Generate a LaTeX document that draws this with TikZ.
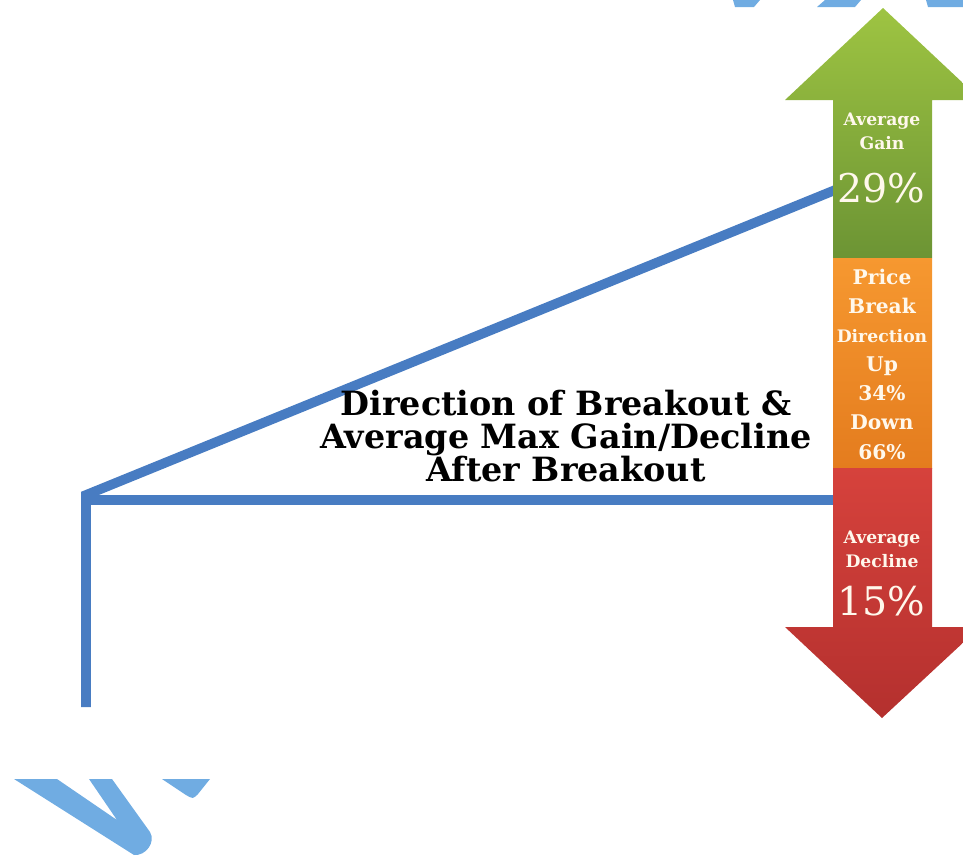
\documentclass[tikz,border=0pt]{standalone}
\usepackage{fontspec}
\setmainfont{DejaVu Serif}
\usepackage{tikz}
\usetikzlibrary{positioning}
\definecolor{trendblue}{RGB}{72, 124, 194}
\definecolor{hatchblue}{RGB}{112, 172, 226}
\definecolor{gaintop}{RGB}{158, 196, 66}
\definecolor{gainbot}{RGB}{108, 148, 52}
\definecolor{dirtop}{RGB}{246, 152, 48}
\definecolor{dirbot}{RGB}{228, 124, 30}
\definecolor{lostop}{RGB}{214, 66, 60}
\definecolor{losbot}{RGB}{180, 48, 46}
\definecolor{labelwhite}{RGB}{255, 248, 236}

\begin{document}
\begin{tikzpicture}[
    x=0.02cm, y=-0.02cm,
    trend/.style={draw=trendblue, line width=5.5pt},
    ribbon/.style={fill=hatchblue, draw=none},
    small/.style={font=\fontsize{9.8}{13.5}\bfseries, text=labelwhite, inner sep=0pt, align=center},
    pct/.style={font=\fontsize{22.5}{24}\selectfont, text=labelwhite, inner sep=0pt}
]
    \useasboundingbox (0,0) rectangle (963,856);
    \clip (0,0) rectangle (963,856);

    % hatched ribbon pieces
    \fill[ribbon] (733,0) -- (760,0) -- (754,7) -- (735,7) -- cycle;
    \fill[ribbon] (825,0) -- (861,0) -- (855,7) -- (817,7) -- cycle;
    \fill[ribbon] (926,0) -- (963,0) -- (963,7) -- (928,7) -- cycle;
    \fill[ribbon] (14,779) -- (57,779) -- (117,820) -- (89,779) -- (112,779)
        -- (150,832) .. controls (156,842) and (146,856) .. (134,855) -- cycle;
    \fill[ribbon] (162,779) -- (210,779) -- (198,794) .. controls (193,799) .. (186,795) -- cycle;

    % trend lines
    \coordinate (base)  at (86,707);
    \coordinate (apex)  at (86,495);
    \coordinate (hiend) at (840,188);
    \coordinate (loleft) at (86,500);
    \coordinate (loend) at (840,500);
    \draw[trend] (base) -- (apex) -- (hiend);
    \draw[trend] (loleft) -- (loend);

    % arrow
    \shade[top color=gaintop, bottom color=gainbot]
        (833,258) -- (833,100) -- (785,100) -- (883,8) -- (981,100) -- (932,100) -- (932,258) -- cycle;
    \shade[top color=dirtop, bottom color=dirbot] (833,258) rectangle (932,468);
    \shade[top color=lostop, bottom color=losbot]
        (833,468) -- (932,468) -- (932,627) -- (980,627) -- (882,718) -- (785,627) -- (833,627) -- cycle;

    % labels
    \node[small] (gainlbl) at (882,131) {Average\\Gain};
    \node[pct] (gainpct) at (881,188) {29\%};
    \node[align=center, text=labelwhite, inner sep=0pt, font=\fontsize{11.5}{16.6}\bfseries] (brkdir) at (882,364)
        {Price\\Break\\{\fontsize{9.8}{16.6}\selectfont Direction}\\Up\\34\%\\Down\\66\%};
    \node[small] (loslbl) at (882,549) {Average\\Decline};
    \node[pct] (lospct) at (881,601) {15\%};

    \node[align=center, inner sep=0pt, font=\fontsize{19}{19}\bfseries] (title) at (566,436)
        {Direction of Breakout \&\\Average Max Gain/Decline\\After Breakout};
\end{tikzpicture}
\end{document}
